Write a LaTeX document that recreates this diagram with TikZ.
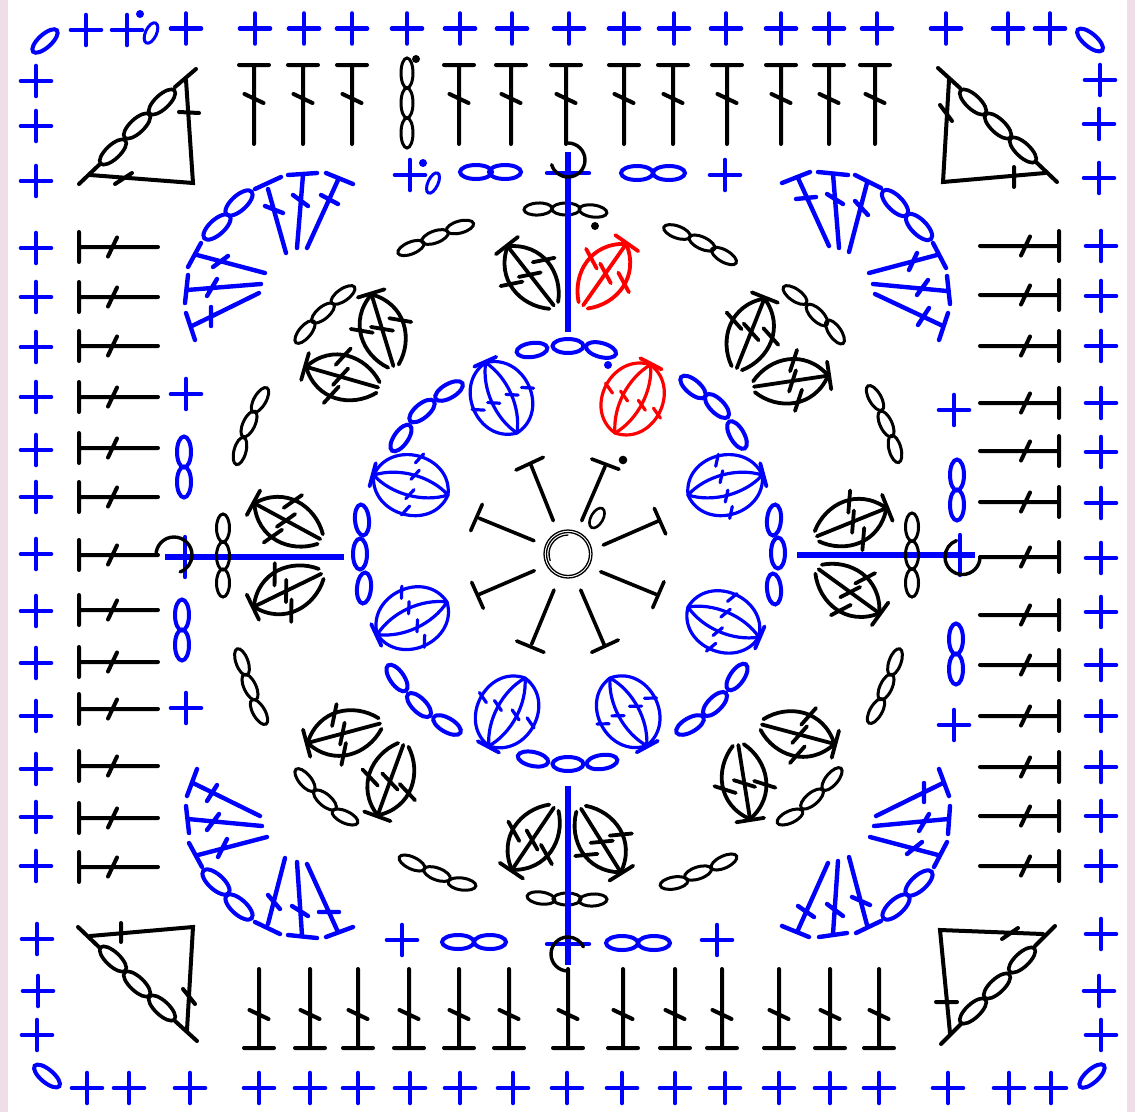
\documentclass[tikz,border=0pt]{standalone}
\usetikzlibrary{calc}
\definecolor{pinkbg}{HTML}{F0DEE6}
\definecolor{bl}{HTML}{0000FF}
\definecolor{rd}{HTML}{FF0000}
\tikzset{
  pl/.style={draw=bl,line width=4.6pt,line cap=round},
  bline/.style={draw=bl,line width=5.6pt},
  blk/.style={draw=black,line width=4pt,line cap=round,line join=miter},
  blu/.style={draw=bl,line width=4.4pt,line cap=round},
  bchain/.style={draw=bl,line width=4pt},
  kchain/.style={draw=black,line width=3pt},
  tchain/.style={draw=black,line width=3.6pt},
}
% one stitch: base point, rotation, colour
\newcommand\dcs[3]{\begin{scope}[shift={(#1,#2)},rotate=#3]
  \draw[blk] (0,0)--(0,-79) (-15,-79)--(15,-79) (-9.5,-50)--(9.5,-41);
\end{scope}}
% ellipse of a chain
\newcommand\chn[6]{\draw[#1,shift={(#2,#3)},rotate=#4] (0,0) ellipse (#5pt and #6pt);}
% outer petal (one central line)
\newcommand\opet[4]{\begin{scope}[shift={(#1,#2)},rotate=#3,draw=#4,line width=3.8pt,line cap=round]
  \draw (0,-2)--(0,-78) (-14,-78)--(14,-78);
  \draw (-5.5,-2) .. controls (-27,-22) and (-30,-58) .. (0,-77);
  \draw (5.5,-2) .. controls (27,-22) and (30,-58) .. (0,-77);
  \draw (-30,-50)--(-10,-40) (-10,-46)--(10,-36) (10,-49)--(30,-39);
\end{scope}}
% inner petal (two central lines)
\newcommand\ipet[4]{\begin{scope}[shift={(#1,#2)},rotate=#3,draw=#4,line width=3.2pt,line cap=round]
  \draw[line width=3.8pt] (-12,-78)--(12,-78);
  \draw (0,0) .. controls (-40,-6) and (-40,-70) .. (0,-77);
  \draw (0,0) .. controls (40,-6) and (40,-70) .. (0,-77);
  \draw (0,0) .. controls (-14,-22) and (-14,-55) .. (0,-77);
  \draw (0,0) .. controls (14,-22) and (14,-55) .. (0,-77);
  \foreach \sx in {-26,-9,11,28} {\draw (\sx-5.4,-39.8)--(\sx+5.4,-34.2);}
\end{scope}}
\begin{document}
\begin{tikzpicture}[x=1pt,y=-1pt]
\useasboundingbox (0,0) rectangle (1135,1112);
\fill[pinkbg] (0,0) rectangle (1135,1112);
\fill[white] (8,0) rectangle (1127,1112);

% outer round of blue plus signs
\foreach \x in {255,304,352,407,460,512,569,624,674,726,781,829,877,946,1008,1050,186}
  {\draw[pl] (\x-15,28.5)--(\x+15,28.5) (\x,13.5)--(\x,43.5);}
\foreach \x in {86,127}
  {\draw[pl] (\x-15,30)--(\x+15,30) (\x,15)--(\x,45);}
\foreach \y/\x in {81/36,126/36,181/36,248/36,297/36,347/36,397/36,450/36,497/36,554/36,611/36,663/36,716/36,769/36,817/36,866/36,939/37,991/38,1035/37}
  {\draw[pl] (\x-15,\y)--(\x+15,\y) (\x,\y-15)--(\x,\y+15);}
\foreach \y/\x in {80/1100,124/1099,178/1099,246/1101,296/1101,346/1101,403/1101,452/1101,503/1101,558/1101,612/1101,665/1101,716/1101,767/1101,816/1101,866/1101,934/1101,991/1099,1035/1101}
  {\draw[pl] (\x-15,\y)--(\x+15,\y) (\x,\y-15)--(\x,\y+15);}
\foreach \x in {87,129,190,259,310,358,410,460,513,567,622,675,725,779,830,879,948,1009,1051}
  {\draw[pl] (\x-15,1088)--(\x+15,1088) (\x,1073)--(\x,1103);}
\chn{bchain}{45}{41}{42}{16}{6.5}
\chn{bchain}{1090}{40}{-40}{16}{6.5}
\chn{bchain}{47}{1076}{-40}{16}{6.5}
\chn{bchain}{1092}{1076}{42}{16}{6.5}
\chn{draw=bl,line width=3pt}{151}{33}{65}{11}{5.5}
\fill[bl] (140,14) circle (4pt);

% second round: black stitches
\foreach \x in {254,303,352,459,511,566,624,673,727,781,829,875}
  {\dcs{\x}{144}{0}{black}}
\foreach \x in {259,310,358,409,459,509,568,623,675,722,779,830,879}
  {\dcs{\x}{969}{180}{black}}
\foreach \y in {247,297,346,397,448,497,555,610,662,709,766,818,867}
  {\dcs{158}{\y}{90}{black}}
\foreach \y in {246,295,346,403,451,502,557,615,665,716,767,816,866}
  {\dcs{980}{\y}{-90}{black}}
% column of chains in the top row
\foreach \y in {73,103,133} {\chn{kchain}{407}{\y}{90}{15}{6}}
\fill[black] (416,59) circle (4pt);

% corner triangles
\begin{scope}[blk]
 \draw (79,184)--(100,164) (175,87)--(196,69) (90,175)--(193,183)--(186,80) (115,184)--(132,173) (179,112)--(199,113);
 \draw (938,68)--(960,88) (1036,162)--(1057,182) (949,80)--(943,182)--(1045,173) (940,105)--(952,121) (1014,167)--(1014,187);
 \draw (78,927)--(100,948) (175,1021)--(197,1041) (90,936)--(193,927)--(187,1030) (121,923)--(121,942) (183,989)--(195,1004);
 \draw (1055,926)--(1035,946) (961,1024)--(941,1044) (1043,934)--(940,930)--(950,1033) (1002,939)--(1018,928) (936,1002)--(957,1002);
\end{scope}
\foreach \x/\y in {113/152,137/126,162/102} {\chn{tchain}{\x}{\y}{43}{17}{7}}
\foreach \x/\y in {973/102,998/126,1023/150} {\chn{tchain}{\x}{\y}{-43}{17}{7}}
\foreach \x/\y in {113/959,137/984,162/1008} {\chn{tchain}{\x}{\y}{-43}{17}{7}}
\foreach \x/\y in {1022/960,997/986,973/1011} {\chn{tchain}{\x}{\y}{43}{17}{7}}

% blue fans
\begin{scope}[blu]
 % top left
 \draw (286,253)--(268,189) (255,189)--(281,177) (265,206)--(283,213);
 \draw (297,248)--(303,175) (288,175)--(317,173) (293,195)--(308,206);
 \draw (307,248)--(338,180) (326,173)--(353,184) (321,195)--(338,204);
 \draw (265,273)--(197,255) (188,267)--(201,243) (213,267)--(228,256);
 \draw (261,284)--(187,290) (188,275)--(185,303) (207,296)--(217,279);
 \draw (259,293)--(192,326) (186,313)--(195,340) (211,307)--(211,326);
 % top right
 \draw (829,246)--(798,178) (782,183)--(810,172) (796,199)--(816,197);
 \draw (839,248)--(833,174) (818,172)--(848,175) (827,194)--(843,204);
 \draw (849,252)--(867,183) (855,175)--(881,188) (855,201)--(868,215);
 \draw (869,273)--(937,255) (933,243)--(946,268) (909,270)--(917,253);
 \draw (873,284)--(947,291) (947,276)--(950,304) (917,295)--(928,280);
 \draw (875,294)--(943,326) (948,313)--(939,340) (918,325)--(929,308);
 % bottom left
 \draw (285,858)--(268,924) (255,922)--(280,934) (268,895)--(280,909);
 \draw (297,862)--(302,935) (288,935)--(317,938) (292,906)--(308,916);
 \draw (307,864)--(338,932) (326,937)--(353,927) (319,912)--(339,912);
 \draw (267,837)--(198,855) (189,843)--(202,867) (218,857)--(227,839);
 \draw (262,826)--(188,819) (186,806)--(189,833) (207,830)--(219,814);
 \draw (260,816)--(193,783) (187,796)--(197,769) (207,801)--(217,785);
 % bottom right
 \draw (828,863)--(798,930) (782,926)--(809,937) (798,906)--(814,917);
 \draw (838,861)--(833,934) (819,937)--(847,933) (827,904)--(843,916);
 \draw (849,857)--(867,925) (856,933)--(881,921) (852,897)--(870,905);
 \draw (870,837)--(938,855) (934,867)--(947,842) (907,854)--(922,842);
 \draw (874,826)--(948,819) (948,834)--(950,806) (919,831)--(929,814);
 \draw (876,816)--(943,783) (939,769)--(949,796) (924,783)--(924,802);
\end{scope}
\foreach \x/\y in {217/227,239/203} {\chn{bchain}{\x}{\y}{42}{17}{7.5}}
\foreach \x/\y in {895/203,919/227} {\chn{bchain}{\x}{\y}{-45}{17}{7.5}}
\foreach \x/\y in {216/882,239/907} {\chn{bchain}{\x}{\y}{-42}{17}{7.5}}
\foreach \x/\y in {896/907,919/883} {\chn{bchain}{\x}{\y}{42}{17}{7.5}}

% side pieces of the blue round
\foreach \x/\y in {186/394,186/708,954/410,954/725,725/175,402/940,717/940,410/175}
  {\draw[pl] (\x-15,\y)--(\x+15,\y) (\x,\y-15)--(\x,\y+15);}
\foreach \x/\y in {184/452,184/482,182/615,182/645,957/475,957/505,956/639,956/669}
  {\chn{bchain}{\x}{\y}{90}{15.5}{7}}
\foreach \x/\y in {476/172,505/172,637/173,669/173,458/942,490/942,622/943,654/943}
  {\chn{bchain}{\x}{\y}{0}{16}{7}}
\chn{draw=bl,line width=3pt}{433}{183}{65}{11}{5}
\fill[bl] (423,163) circle (4pt);

% third round: black chains and petals
\foreach \x/\y/\a in {538/209/3,566/209/0,593/211/-8,541/898/-8,567/899/0,593/900/3,
   411/248/22,435/237/20,460/227/15,677/232/-20,702/243/-25,724/256/-30,
   412/863/-25,437/874/-20,462/884/-8,674/883/10,698/873/18,724/862/25,
   240/451/75,249/424/65,260/400/60,875/398/-60,886/424/-65,895/449/-75,
   242/662/-70,250/687/-65,259/712/-60,895/662/70,886/687/65,876/711/60,
   305/332/50,323/313/40,343/295/35,795/295/-35,817/315/-45,835/332/-55,
   305/780/-50,325/800/-40,345/817/-25,832/779/50,812/799/40,790/817/25}
  {\chn{kchain}{\x}{\y}{\a}{14}{6}}
\fill[black] (595,226) circle (4pt);
\opet{555}{307}{38}{black}
\opet{582}{307}{-35}{rd}
\opet{394}{368}{17}{black}
\opet{380}{388}{74}{black}
\opet{736}{370}{-21.7}{black}
\opet{752}{387}{-81.5}{black}
\opet{815}{537}{-68}{black}
\opet{817}{568}{-126}{black}
\opet{322}{540}{61.5}{black}
\opet{323}{573}{116}{black}
\opet{555}{806}{146}{black}
\opet{580}{807}{-148}{black}
\opet{382}{723}{105}{black}
\opet{404}{743}{160}{black}
\opet{760}{724}{-105}{black}
\opet{738}{743}{-171}{black}

% long blue lines: top and bottom lie over the chains
\draw[bline] (568,152)--(568,332);
\draw[bline] (568,786)--(568,965);
\draw[bline] (165,557)--(344,557);
\draw[bline] (797,555)--(975,555);
\draw[blu] (547,173)--(589,173) (547,944)--(589,944) (185,537)--(185,577) (960,535)--(960,575);
% left and right chains lie over the lines
\foreach \y in {528,556,583} {\chn{kchain}{223}{\y}{90}{14}{6.5}}
\foreach \y in {527,555,583} {\chn{kchain}{912}{\y}{90}{14}{6.5}}

% hooks
\draw[blk,line width=3.4pt] (568,143) arc (90:-164:17pt);
\draw[blk,line width=3.4pt] (156,555) arc (180:-70:18pt);
\draw[blk,line width=3.4pt] (980,557) arc (0:-250:17.5pt);
\draw[blk,line width=3.4pt] (568,971) arc (270:25:17pt);

% inner blue round
\ipet{517}{433}{24}{bl}
\ipet{615}{433}{-27.5}{rd}
\ipet{688}{495}{-75}{bl}
\ipet{688}{607}{-113}{bl}
\ipet{610}{678}{-151.5}{bl}
\ipet{525}{678}{152}{bl}
\ipet{447}{602}{115}{bl}
\ipet{448}{495}{75}{bl}
\foreach \x/\y/\a in {532/350/8,568/346/0,601/350/-15,401/438/55,422/411/40,449/391/30,
   693/387/-40,717/406/-45,737/435/-60,533/759/-12,568/764/0,602/762/8,
   397/678/-55,419/705/-45,447/725/-30,737/677/55,715/704/45,690/725/30,
   774/520/85,778/553/90,774/589/95,362/520/95,360/554/90,364/588/85}
  {\chn{bchain}{\x}{\y}{\a}{15.5}{7}}
\fill[bl] (608,365) circle (4pt);

% centre
\begin{scope}[draw=black,line cap=round]
 \draw[line width=1.3pt] (568,554) circle (24pt);
 \draw[line width=1.3pt] (568,554) circle (21.5pt);
 \draw[line width=1.3pt] (568,535) arc (90:200:19pt);
\end{scope}
\begin{scope}[draw=black,line width=3.6pt,line cap=round]
 \draw (553.3,520.7)--(531,465) (516,470)--(543.3,457.3);
 \draw (581.7,520.7)--(605,466.7) (591.7,459)--(619,469.3);
 \draw (603.3,545)--(658.3,521) (654.3,508.3)--(665.7,534);
 \draw (600.7,571.7)--(656,594.3) (664,581.7)--(652.7,607.7);
 \draw (580.7,590)--(604.3,645) (618.3,640)--(591.7,652.3);
 \draw (554,590)--(531.7,644) (516.7,641)--(544,652.3);
 \draw (534.3,570.7)--(479.3,594.3) (471.7,582.3)--(483.3,608.3);
 \draw (534,540.7)--(479.3,518.3) (482.3,504.3)--(470.7,530.7);
\end{scope}
\chn{draw=black,line width=2.6pt}{597}{518}{60}{11}{6}
\fill[black] (623,460) circle (4.3pt);
\end{tikzpicture}
\end{document}
